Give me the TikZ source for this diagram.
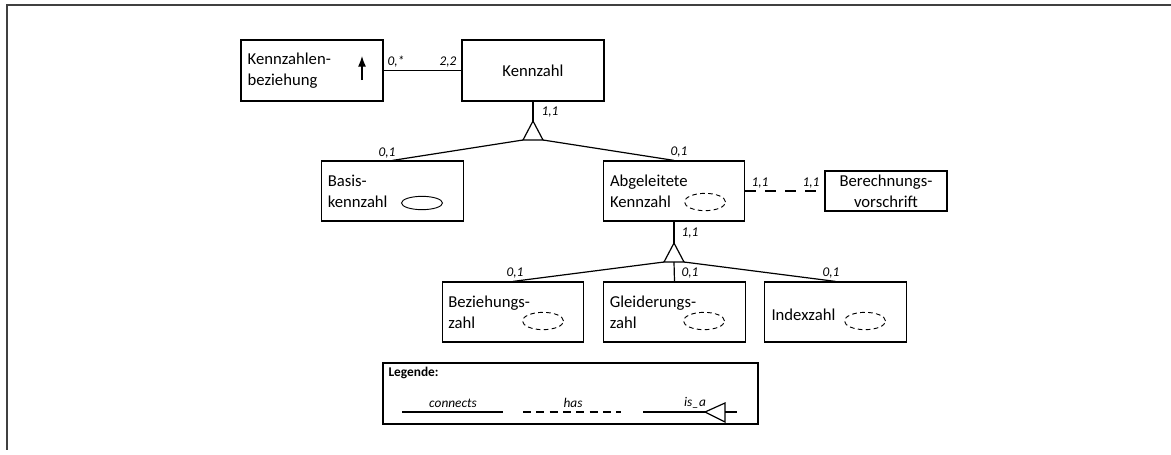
\documentclass[tikz,border=0pt]{standalone}
\usepackage{fontspec}
\setmainfont{Carlito}
\usetikzlibrary{shapes.geometric}
\usetikzlibrary{arrows.meta}

\begin{document}
\begin{tikzpicture}[x=0.75pt, y=-0.75pt, line width=0.9pt,
		entity/.style={draw, rectangle, minimum width=106pt, minimum height=45pt, inner sep=0pt},
		txt/.style={font=\fontsize{12.5}{15.75}\selectfont, align=left, inner sep=0pt},
		card/.style={font=\fontsize{10}{12}\selectfont\itshape, inner sep=0pt},
		weakell/.style={draw, ellipse, line width=0.7pt, dash pattern=on 3.5pt off 2.5pt, minimum width=30.75pt, minimum height=13pt, inner sep=0pt},
		strongell/.style={draw, ellipse, line width=0.7pt, minimum width=30.75pt, minimum height=10pt, inner sep=0pt}]
		\useasboundingbox (0,0) rectangle (1171,454);
		\draw [black!75, line width=1.5pt] (1171,5) -- (7,5) -- (7,450);
		% entities
		\node [entity, minimum width=106.5pt, minimum height=45.75pt] (kzbez) at (312,70.5) {};
		\node [entity, minimum width=106.5pt, minimum height=45.75pt] (kz) at (533,70.5) {};
		\node [entity] (basis) at (392.5,191) {};
		\node [entity] (abgel) at (674,191) {};
		\node [entity, minimum width=91.5pt, minimum height=30pt] (berech) at (886,191) {};
		\node [entity] (bezz) at (513,312) {};
		\node [entity] (glz) at (674.5,312) {};
		\node [entity, minimum width=107pt] (idxz) at (835.5,312) {};
		% texts
		\node [txt, anchor=west] (kzbeztxt) at ([xshift=5pt]kzbez.west) {Kennzahlen-\\beziehung};
		\node [txt] (kztxt) at (kz.center) {Kennzahl};
		\node [txt, anchor=west] (basistxt) at ([xshift=4.5pt]basis.west) {Basis-\\kennzahl};
		\node [txt, anchor=west] (abgeltxt) at ([xshift=5pt]abgel.west) {Abgeleitete\\Kennzahl};
		\node [txt, align=center] (berechtxt) at (berech.center) {Berechnungs-\\vorschrift};
		\node [txt, anchor=west] (bezztxt) at ([xshift=4.5pt]bezz.west) {Beziehungs-\\zahl};
		\node [txt, anchor=west] (glztxt) at ([xshift=4.5pt]glz.west) {Gleiderungs-\\zahl};
		\node [txt, anchor=west] (idxztxt) at ([xshift=5.5pt, yshift=-2pt]idxz.west) {Indexzahl};
		% keys
		\node [strongell] (basisell) at (422,203) {};
		\node [weakell] (abgelell) at (705,202) {};
		\node [weakell] (bezzell) at (543,321) {};
		\node [weakell] (glzell) at (704,321) {};
		\node [weakell] (idxzell) at (865,321) {};
		\coordinate (arrbot) at (362,80);
		\coordinate (arrtop) at (362,56);
		\draw [-{Latex[length=8pt,width=6pt]}] (arrbot) -- (arrtop);
		% connects
		\draw (kzbez.east) -- (kz.west);
		\node [card] (c1) at (396,62) {0,*};
		\node [card] (c2) at (448,62) {2,2};
		% is_a Kennzahl
		\coordinate (t1top) at (533,121);
		\coordinate (t1l) at (523,140);
		\coordinate (t1r) at (543,140);
		\draw (kz.south) -- (t1top);
		\draw (t1top) -- (t1l) -- (t1r) -- cycle;
		\draw (t1l) -- (basis.north);
		\draw (t1r) -- (abgel.north);
		\node [card] (c3) at (550,112) {1,1};
		\node [card] (c4) at (387,153) {0,1};
		\node [card] (c5) at (679,152) {0,1};
		% has
		\draw [dash pattern=on 8pt off 7pt] (abgel.east) -- (berech.west);
		\node [card] (c6) at (760,183) {1,1};
		\node [card] (c7) at (811,183) {1,1};
		% is_a Abgeleitete Kennzahl
		\coordinate (t2top) at (674,243);
		\coordinate (t2l) at (664,262);
		\coordinate (t2m) at (674,262);
		\coordinate (t2r) at (684,262);
		\draw (abgel.south) -- (t2top);
		\draw (t2top) -- (t2l) -- (t2r) -- cycle;
		\draw (t2l) -- (bezz.north);
		\draw (t2m) -- (glz.north);
		\draw (t2r) -- (idxz.north);
		\node [card] (c8) at (690,233) {1,1};
		\node [card] (c9) at (515,273) {0,1};
		\node [card] (c10) at (690,273) {0,1};
		\node [card] (c11) at (831,273) {0,1};
		% legend
		\node [draw, minimum width=281.25pt, minimum height=45.75pt, inner sep=0pt] (legende) at (570.5,393.5) {};
		\node [font=\fontsize{10}{12}\selectfont\bfseries, anchor=west, inner sep=0pt] (legtitle) at (388,373) {Legende:};
		\node [card] (legcon) at (453,403) {connects};
		\node [card] (leghas) at (573,403) {has};
		\node [card] (legisa) at (695,403) {is\_a};
		\draw (402,412) -- (503,412);
		\draw [dash pattern=on 6pt off 4pt] (523,412) -- (621,412);
		\draw (643,412) -- (705,412);
		\draw (705,412) -- (725,403) -- (725,422) -- cycle;
		\draw (725,412) -- (737,412);
\end{tikzpicture}
\end{document}
